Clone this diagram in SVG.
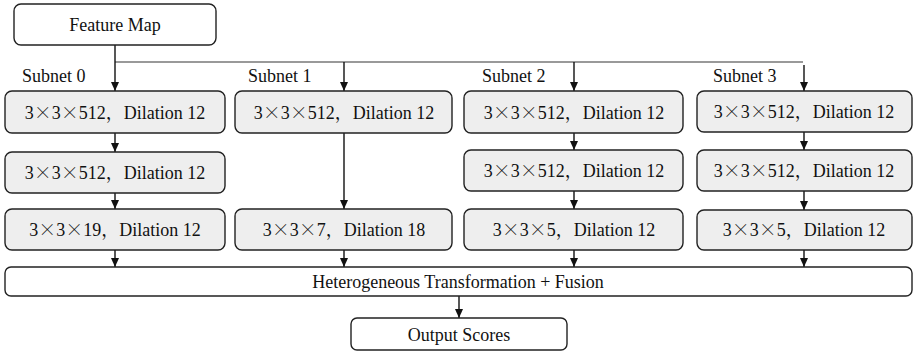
<svg xmlns="http://www.w3.org/2000/svg" width="914" height="351" viewBox="0 0 914 351">
<defs>
<style>
text{font-size:18px;fill:#111;text-anchor:middle}
.lbl{text-anchor:start}
.box{fill:#ffffff;stroke:#222;stroke-width:1.4}
.gbox{fill:#eeeeee;stroke:#222;stroke-width:1.4}
.ln{stroke:#111;stroke-width:1.4;fill:none}
.bus{stroke:#777;stroke-width:1.6;fill:none}
</style>
<marker id="ad" markerUnits="userSpaceOnUse" markerWidth="10" markerHeight="10" viewBox="0 0 10 10" refX="9" refY="5" orient="auto">
<path d="M0,1 L9,5 L0,9 Z" fill="#111"/>
</marker>
</defs>

<g id="connectors">
<path class="bus" d="M115,62 H803"/>
<path class="ln" marker-end="url(#ad)" d="M115,45 V91"/>
<path class="ln" marker-end="url(#ad)" d="M344,62 V91"/>
<path class="ln" marker-end="url(#ad)" d="M574,62 V91"/>
<path class="ln" marker-end="url(#ad)" d="M804,65 V91"/>
<path class="ln" marker-end="url(#ad)" d="M115,133 V152"/>
<path class="ln" marker-end="url(#ad)" d="M115,193 V209"/>
<path class="ln" marker-end="url(#ad)" d="M115,250 V267"/>
<path class="ln" marker-end="url(#ad)" d="M344,133 V209"/>
<path class="ln" marker-end="url(#ad)" d="M344,250 V267"/>
<path class="ln" marker-end="url(#ad)" d="M574,133 V150"/>
<path class="ln" marker-end="url(#ad)" d="M574,191 V209"/>
<path class="ln" marker-end="url(#ad)" d="M574,250 V267"/>
<path class="ln" marker-end="url(#ad)" d="M804,132 V150"/>
<path class="ln" marker-end="url(#ad)" d="M804,191 V210"/>
<path class="ln" marker-end="url(#ad)" d="M804,250 V267"/>
<path class="ln" marker-end="url(#ad)" d="M459,296 V318"/>
</g>

<g font-family="Liberation Serif, Times New Roman, serif">
<g id="feature-map">
<rect class="box" x="14" y="4" width="202" height="41" rx="7"/>
<text x="115" y="31" font-family="Liberation Serif">Feature Map</text>
</g>

<g id="subnet-labels">
<text class="lbl" x="22" y="82" font-family="Liberation Serif">Subnet 0</text>
<text class="lbl" x="248" y="82" font-family="Liberation Serif">Subnet 1</text>
<text class="lbl" x="482" y="82" font-family="Liberation Serif">Subnet 2</text>
<text class="lbl" x="713" y="82" font-family="Liberation Serif">Subnet 3</text>
</g>

<g id="s0-r1">
<rect class="gbox" x="5" y="91" width="220" height="42" rx="7"/>
<text x="115" y="119" font-family="Liberation Serif">3<tspan font-family="Noto Serif CJK SC">×</tspan>3<tspan font-family="Noto Serif CJK SC">×</tspan>512<tspan font-family="Noto Serif CJK SC">，</tspan>Dilation 12</text>
</g>
<g id="s0-r2">
<rect class="gbox" x="5" y="152" width="220" height="41" rx="7"/>
<text x="115" y="179" font-family="Liberation Serif">3<tspan font-family="Noto Serif CJK SC">×</tspan>3<tspan font-family="Noto Serif CJK SC">×</tspan>512<tspan font-family="Noto Serif CJK SC">，</tspan>Dilation 12</text>
</g>
<g id="s0-r3">
<rect class="gbox" x="5" y="209" width="220" height="41" rx="7"/>
<text x="115" y="236" font-family="Liberation Serif">3<tspan font-family="Noto Serif CJK SC">×</tspan>3<tspan font-family="Noto Serif CJK SC">×</tspan>19<tspan font-family="Noto Serif CJK SC">，</tspan>Dilation 12</text>
</g>

<g id="s1-r1">
<rect class="gbox" x="235" y="91" width="217" height="42" rx="7"/>
<text x="344" y="119" font-family="Liberation Serif">3<tspan font-family="Noto Serif CJK SC">×</tspan>3<tspan font-family="Noto Serif CJK SC">×</tspan>512<tspan font-family="Noto Serif CJK SC">，</tspan>Dilation 12</text>
</g>
<g id="s1-r3">
<rect class="gbox" x="235" y="209" width="217" height="41" rx="7"/>
<text x="344" y="236" font-family="Liberation Serif">3<tspan font-family="Noto Serif CJK SC">×</tspan>3<tspan font-family="Noto Serif CJK SC">×</tspan>7<tspan font-family="Noto Serif CJK SC">，</tspan>Dilation 18</text>
</g>

<g id="s2-r1">
<rect class="gbox" x="464" y="91" width="219" height="42" rx="7"/>
<text x="574" y="119" font-family="Liberation Serif">3<tspan font-family="Noto Serif CJK SC">×</tspan>3<tspan font-family="Noto Serif CJK SC">×</tspan>512<tspan font-family="Noto Serif CJK SC">，</tspan>Dilation 12</text>
</g>
<g id="s2-r2">
<rect class="gbox" x="464" y="150" width="219" height="41" rx="7"/>
<text x="574" y="177" font-family="Liberation Serif">3<tspan font-family="Noto Serif CJK SC">×</tspan>3<tspan font-family="Noto Serif CJK SC">×</tspan>512<tspan font-family="Noto Serif CJK SC">，</tspan>Dilation 12</text>
</g>
<g id="s2-r3">
<rect class="gbox" x="464" y="209" width="219" height="41" rx="7"/>
<text x="574" y="236" font-family="Liberation Serif">3<tspan font-family="Noto Serif CJK SC">×</tspan>3<tspan font-family="Noto Serif CJK SC">×</tspan>5<tspan font-family="Noto Serif CJK SC">，</tspan>Dilation 12</text>
</g>

<g id="s3-r1">
<rect class="gbox" x="697" y="91" width="215" height="41" rx="7"/>
<text x="804" y="118" font-family="Liberation Serif">3<tspan font-family="Noto Serif CJK SC">×</tspan>3<tspan font-family="Noto Serif CJK SC">×</tspan>512<tspan font-family="Noto Serif CJK SC">，</tspan>Dilation 12</text>
</g>
<g id="s3-r2">
<rect class="gbox" x="697" y="150" width="215" height="41" rx="7"/>
<text x="804" y="177" font-family="Liberation Serif">3<tspan font-family="Noto Serif CJK SC">×</tspan>3<tspan font-family="Noto Serif CJK SC">×</tspan>512<tspan font-family="Noto Serif CJK SC">，</tspan>Dilation 12</text>
</g>
<g id="s3-r3">
<rect class="gbox" x="697" y="210" width="215" height="40" rx="7"/>
<text x="804" y="236" font-family="Liberation Serif">3<tspan font-family="Noto Serif CJK SC">×</tspan>3<tspan font-family="Noto Serif CJK SC">×</tspan>5<tspan font-family="Noto Serif CJK SC">，</tspan>Dilation 12</text>
</g>

<g id="fusion">
<rect class="box" x="5" y="267" width="907" height="29" rx="6"/>
<text x="458" y="288" font-family="Liberation Serif">Heterogeneous Transformation + Fusion</text>
</g>

<g id="output">
<rect class="box" x="351" y="318" width="216" height="32" rx="6"/>
<text x="459" y="341" font-family="Liberation Serif">Output Scores</text>
</g>
</g>
</svg>
